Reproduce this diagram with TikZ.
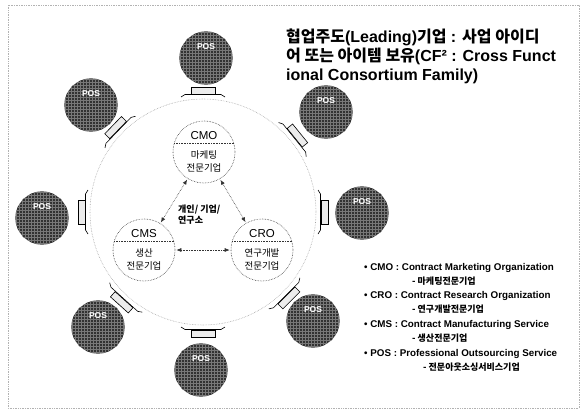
\documentclass[tikz,border=0pt]{standalone}
\usepackage{fontspec}
\setmainfont{Liberation Sans}
\newfontfamily\kr{Noto Sans CJK KR}
\usetikzlibrary{arrows.meta,calc}
\newcommand\K[1]{{\kr #1}}
\definecolor{posdark}{RGB}{50,50,50}
\definecolor{posline}{RGB}{120,120,120}
\begin{document}
\begin{tikzpicture}[x=1pt,y=-1pt,
  frame/.style={draw=gray!60, densely dotted, line width=0.7pt},
  bigc/.style={circle, draw=gray!70, densely dotted, line width=0.6pt, minimum size=226pt, inner sep=0pt},
  unit/.style={circle, draw=gray!40!black, densely dotted, line width=0.6pt, minimum size=62pt, inner sep=0pt},
  divider/.style={draw=gray!40!black, densely dotted, line width=0.6pt},
  posc/.style={circle, minimum size=53pt, inner sep=0pt},
  posdisc/.style={draw=posdark, line width=26.6pt},
  posgrid/.style={draw=posline, line width=0.3pt},
  postext/.style={text=white, font=\bfseries\fontsize{8.5}{9}\selectfont, inner sep=0.5pt},
  unitname/.style={font=\fontsize{11.5}{12}\selectfont, inner sep=0pt},
  unitkr/.style={font=\kr\fontsize{9.5}{13}\selectfont, inner sep=0pt, align=center},
  rel/.style={densely dotted, draw=black!80, line width=0.6pt, {Latex[length=5pt,width=4pt]}-{Latex[length=5pt,width=4pt]}, shorten <=1pt, shorten >=1pt},
  plate/.style={draw=black, line width=0.6pt, fill=gray!15},
  plateline/.style={draw=black, line width=0.6pt},
  title/.style={font=\bfseries\fontsize{16}{19}\selectfont, anchor=base west, inner sep=0pt},
  leg/.style={font=\bfseries\fontsize{9.8}{11}\selectfont, anchor=base west, inner sep=0pt},
  legkr/.style={font=\kr\bfseries\fontsize{9}{10}\selectfont, anchor=base west, inner sep=0pt},
  mid/.style={font=\kr\bfseries\fontsize{9}{10.5}\selectfont, align=left, inner sep=0pt, anchor=north west}
]
\useasboundingbox (0,0) rectangle (586,410);
\draw[frame] (8,5) rectangle (579,408);

% big circle
\node[bigc] (big) at (203,212) {};

% POS circles and plates
\foreach \n/\x/\y/\a in {1/206/58/90, 2/326/112/39, 3/362/213/0, 4/313/321/-45,
                         5/201/370/-90, 6/98/327/-132, 7/42/218/180, 8/91/105/136}{
  \node[posc] (p\n) at (\x,\y) {};
  \draw[posdisc] (p\n.center) circle[radius=13.3];
  \begin{scope}
    \clip (p\n.center) circle[radius=26.5];
    \foreach \k in {-26,-23,...,26}{
      \draw[posgrid] (\x+\k,\y-27) -- (\x+\k,\y+27);
      \draw[posgrid] (\x-27,\y+\k) -- (\x+27,\y+\k);
    }
  \end{scope}
  \node[postext] (p\n t) at ($(p\n)+(0,-11)$) {POS};
  \begin{scope}[shift={(big.center)}, rotate=\a]
    \draw[plate] (118,-12) rectangle (125,12);
    \draw[plateline] (115,-22) -- (117.5,-18) -- (117.5,18) -- (115,22);
  \end{scope}
}

% units
\node[unit] (cmo) at (204,152) {};
\node[unit] (cms) at (144,250) {};
\node[unit] (cro) at (262,250) {};
\foreach \u in {cmo,cms,cro}{
  \draw[divider] (\u.17) -- (\u.163);
}
\node[unitname] (cmoN) at ($(cmo)+(0,-16)$) {CMO};
\node[unitname] (cmsN) at ($(cms)+(0,-16)$) {CMS};
\node[unitname] (croN) at ($(cro)+(0,-16)$) {CRO};
\node[unitkr] (cmoK) at ($(cmo)+(0,9.5)$) {마케팅\\전문기업};
\node[unitkr] (cmsK) at ($(cms)+(0,9.5)$) {생산\\전문기업};
\node[unitkr] (croK) at ($(cro)+(0,9.5)$) {연구개발\\전문기업};

\draw[rel] (cmo) -- (cms);
\draw[rel] (cmo) -- (cro);
\draw[rel] (cms) -- (cro);

\node[mid] (mid) at (178,205) {개인/ 기업/\\연구소};

% title
\node[title] (t1) at (286,42) {\K{협업주도}(Leading)\K{기업} : \K{사업 아이디}};
\node[title] (t2) at (286,61) {\K{어 또는 아이템 보유}(CF² : Cross Funct};
\node[title] (t3) at (286,80) {ional Consortium Family)};

% legend
\node[leg] (l1) at (364,270) {• CMO : Contract Marketing Organization};
\node[legkr] (l2) at (412,284) {- 마케팅전문기업};
\node[leg] (l3) at (364,298) {• CRO : Contract Research Organization};
\node[legkr] (l4) at (412,312) {- 연구개발전문기업};
\node[leg] (l5) at (364,327) {• CMS : Contract Manufacturing Service};
\node[legkr] (l6) at (412,341) {- 생산전문기업};
\node[leg] (l7) at (364,356) {• POS : Professional Outsourcing Service};
\node[legkr] (l8) at (423,370) {- 전문아웃소싱서비스기업};
\end{tikzpicture}
\end{document}
